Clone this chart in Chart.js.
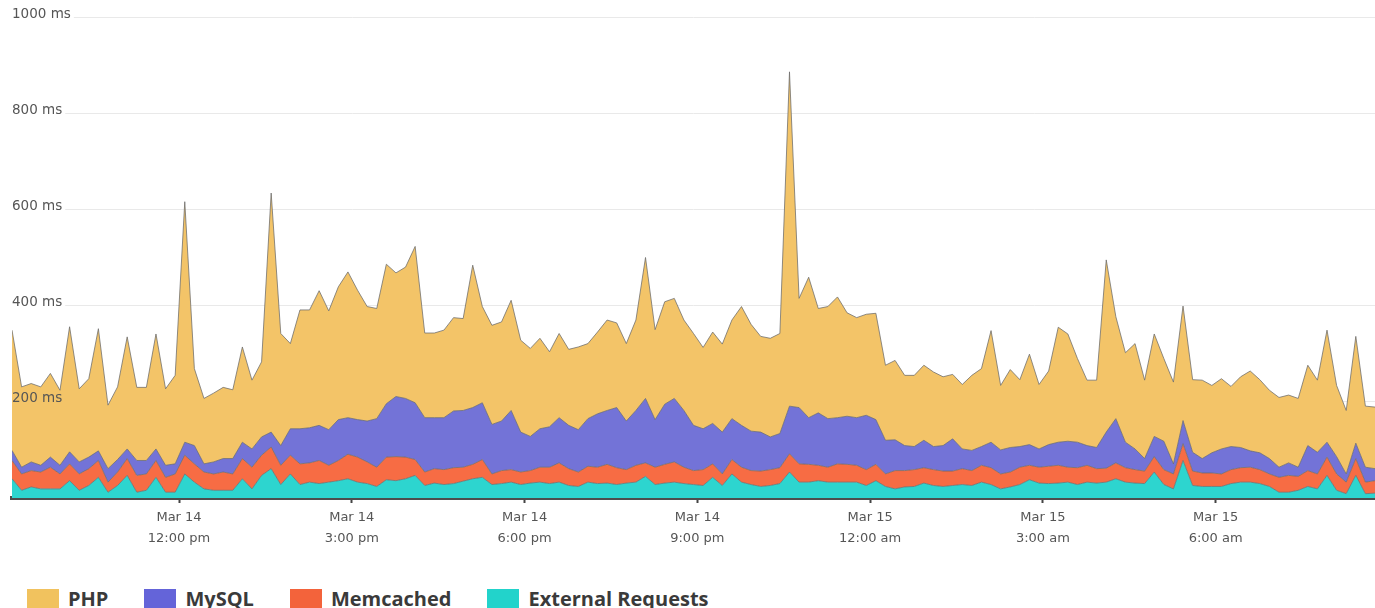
<!DOCTYPE html>
<html>
<head>
<meta charset="utf-8">
<script src="https://cdn.jsdelivr.net/npm/chart.js@4.4.1/dist/chart.umd.min.js"></script>
<style>
  html, body { margin: 0; padding: 0; background: #fff; }
  body { width: 1375px; height: 608px; overflow: hidden; position: relative; }
  #wrap { position: absolute; left: 0; top: 0; width: 1375px; height: 560px; }
  #legend { position: absolute; left: 27px; top: 588px; display: flex; font-family: "Open Sans", sans-serif; font-weight: bold; font-size: 20px; color: #3a3a3a; }
  .item { display: flex; align-items: center; margin-right: 36px; line-height: 22px; }
  .box { width: 32px; height: 21px; margin-right: 9px; }
</style>
</head>
<body>
<div id="wrap"><canvas id="chart"></canvas></div>
<div id="legend"></div>
<script>
// x = hours since Mar 14 00:00, one point every 10 minutes
const START_HOUR = 9.1;
const STEP_HOURS = 1 / 6;

const TICK_HOURS = [12, 15, 18, 21, 24, 27, 30];
const TICK_LABELS = [
  ["Mar 14", "12:00 pm"], ["Mar 14", "3:00 pm"], ["Mar 14", "6:00 pm"], ["Mar 14", "9:00 pm"],
  ["Mar 15", "12:00 am"], ["Mar 15", "3:00 am"], ["Mar 15", "6:00 am"]
];

const Y_TICKS = [200, 400, 600, 800, 1000];

// values in ms, one per sample
const php = [
  250, 167, 163, 163, 174, 156, 260, 152, 163, 254, 132, 151, 233, 152, 152, 239, 159, 184, 500, 160,
  136, 143, 148, 143, 198, 143, 156, 497, 233, 177, 247, 245, 280, 247, 276, 303, 269, 238, 229, 290,
  257, 273, 325, 176, 176, 182, 194, 191, 296, 200, 206, 206, 229, 191, 183, 188, 156, 175, 158, 172,
  156, 170, 188, 176, 161, 188, 293, 187, 213, 208, 188, 191, 169, 190, 183, 205, 247, 222, 199, 205,
  208, 695, 227, 292, 217, 233, 251, 215, 208, 210, 221, 156, 165, 146, 148, 156, 155, 143, 134, 134,
  156, 162, 232, 134, 162, 139, 188, 134, 153, 239, 223, 174, 136, 140, 358, 212, 186, 219, 163, 213,
  172, 170, 238, 151, 163, 140, 146, 125, 147, 166, 152, 142, 145, 141, 143, 167, 150, 233, 148, 132,
  222, 127, 128
];
const mysql = [
  21, 14, 18, 14, 21, 18, 25, 25, 24, 20, 28, 26, 20, 31, 28, 24, 25, 21, 27, 38,
  17, 25, 28, 32, 34, 38, 38, 31, 41, 55, 73, 73, 73, 74, 85, 76, 78, 85, 101, 111,
  125, 122, 118, 113, 106, 108, 118, 118, 118, 118, 103, 103, 123, 83, 71, 80, 84, 94, 90, 88,
  99, 111, 112, 125, 101, 114, 134, 99, 125, 132, 118, 94, 85, 84, 87, 85, 87, 82, 81, 68,
  71, 99, 117, 97, 109, 101, 96, 100, 99, 113, 93, 70, 64, 52, 48, 57, 48, 53, 67, 41,
  42, 39, 53, 50, 51, 43, 43, 38, 45, 48, 54, 53, 41, 44, 75, 92, 53, 43, 26, 42,
  59, 21, 48, 39, 30, 42, 52, 48, 42, 34, 35, 32, 21, 26, 19, 52, 45, 31, 36, 17,
  32, 31, 25
];
const memcached = [
  38, 34, 34, 35, 45, 31, 35, 34, 35, 35, 21, 28, 35, 35, 34, 35, 31, 38, 39, 38,
  35, 34, 38, 34, 42, 45, 42, 45, 40, 39, 43, 40, 48, 35, 42, 51, 52, 45, 40, 47,
  50, 45, 33, 28, 30, 31, 33, 29, 30, 37, 22, 27, 26, 26, 26, 31, 34, 40, 35, 30,
  33, 34, 39, 35, 28, 35, 28, 36, 39, 42, 34, 29, 33, 28, 24, 30, 31, 29, 32, 33,
  33, 38, 38, 37, 32, 31, 38, 37, 35, 33, 34, 26, 38, 34, 35, 32, 33, 32, 30, 33,
  31, 35, 35, 31, 31, 36, 30, 33, 36, 37, 31, 35, 35, 30, 29, 33, 30, 28, 26, 32,
  31, 31, 35, 30, 28, 28, 26, 29, 30, 31, 29, 26, 31, 35, 29, 33, 31, 38, 34, 24,
  35, 24, 26
];
const external = [
  40, 16, 23, 19, 19, 19, 36, 16, 26, 43, 12, 26, 47, 12, 16, 43, 12, 12, 50, 33,
  19, 16, 16, 16, 40, 19, 47, 61, 28, 50, 28, 33, 30, 33, 36, 40, 33, 30, 24, 38,
  36, 40, 47, 26, 31, 28, 30, 35, 40, 43, 28, 30, 33, 28, 31, 33, 30, 33, 26, 24,
  33, 30, 31, 28, 31, 33, 45, 28, 31, 33, 30, 28, 26, 43, 26, 50, 33, 28, 24, 26,
  30, 54, 33, 33, 36, 33, 33, 33, 33, 26, 36, 24, 19, 23, 24, 31, 26, 24, 26, 28,
  26, 33, 28, 19, 23, 28, 38, 31, 30, 31, 33, 28, 33, 31, 33, 40, 33, 31, 30, 54,
  28, 19, 78, 26, 24, 24, 24, 30, 33, 33, 30, 24, 12, 12, 16, 24, 19, 47, 16, 9,
  47, 9, 10
];

const SERIES = [
  { name: "PHP", values: php, color: "#f3c468", key: "#f1c25e" },
  { name: "MySQL", values: mysql, color: "#7373d7", key: "#6464d9" },
  { name: "Memcached", values: memcached, color: "#f76c44", key: "#f3633b" },
  { name: "External Requests", values: external, color: "#2dd5cf", key: "#22d3cb" }
];

function toPoints(values) {
  return values.map((v, i) => ({ x: START_HOUR + i * STEP_HOURS, y: v }));
}

// stack from the bottom: External, Memcached, MySQL, PHP
const datasets = SERIES.slice().reverse().map((s, idx) => ({
  label: s.name,
  data: toPoints(s.values),
  backgroundColor: s.color,
  borderColor: "rgba(105,105,105,0.75)",
  borderWidth: 1,
  pointRadius: 0,
  tension: 0,
  fill: idx === 0 ? "origin" : "-1"
}));

// blank the grid line behind each y label, under the areas
const labelGap = {
  id: "labelGap",
  beforeDatasetsDraw(chart) {
    const y = chart.scales.y;
    const ctx = chart.ctx;
    ctx.save();
    ctx.font = "13.5px 'DejaVu Sans'";
    ctx.fillStyle = "#fff";
    y.ticks.forEach(t => {
      const py = y.getPixelForValue(t.value);
      const w = ctx.measureText(t.value + " ms").width;
      ctx.fillRect(chart.chartArea.left, py - 2, w + 3, 4);
    });
    ctx.restore();
  }
};

new Chart(document.getElementById("chart"), {
  type: "line",
  data: { datasets },
  plugins: [labelGap],
  options: {
    responsive: true,
    maintainAspectRatio: false,
    animation: false,
    layout: { padding: { left: 12, top: 17, right: 0, bottom: 0 } },
    plugins: {
      legend: { display: false },
      tooltip: { enabled: false }
    },
    scales: {
      x: {
        type: "linear",
        min: START_HOUR,
        max: START_HOUR + (php.length - 1) * STEP_HOURS,
        afterBuildTicks: scale => { scale.ticks = TICK_HOURS.map(v => ({ value: v })); },
        afterFit: scale => { scale.height = 62; },
        grid: { drawOnChartArea: false, drawTicks: true, tickLength: 5, tickColor: "#444", tickWidth: 2 },
        border: { display: true, color: "#4d4d4d", width: 4 },
        ticks: {
          autoSkip: false,
          maxRotation: 0,
          padding: 4,
          color: "#555",
          font: { family: "DejaVu Sans", size: 13, lineHeight: 1.6 },
          callback: (v, i) => TICK_LABELS[i]
        }
      },
      y: {
        stacked: true,
        min: 0,
        max: 1000,
        afterBuildTicks: scale => { scale.ticks = Y_TICKS.map(v => ({ value: v })); },
        grid: { color: "#e9e9e9", lineWidth: 1, drawTicks: false },
        border: { display: false },
        ticks: {
          mirror: true,
          padding: 0,
          z: 1,
          labelOffset: -3,
          color: "#555",
          font: { family: "DejaVu Sans", size: 13.5 },
          callback: v => v + " ms"
        }
      }
    }
  }
});

const legend = document.getElementById("legend");
SERIES.forEach(s => {
  const item = document.createElement("div");
  item.className = "item";
  item.innerHTML = `<div class="box" style="background:${s.key}"></div><span>${s.name}</span>`;
  legend.appendChild(item);
});
</script>
</body>
</html>
